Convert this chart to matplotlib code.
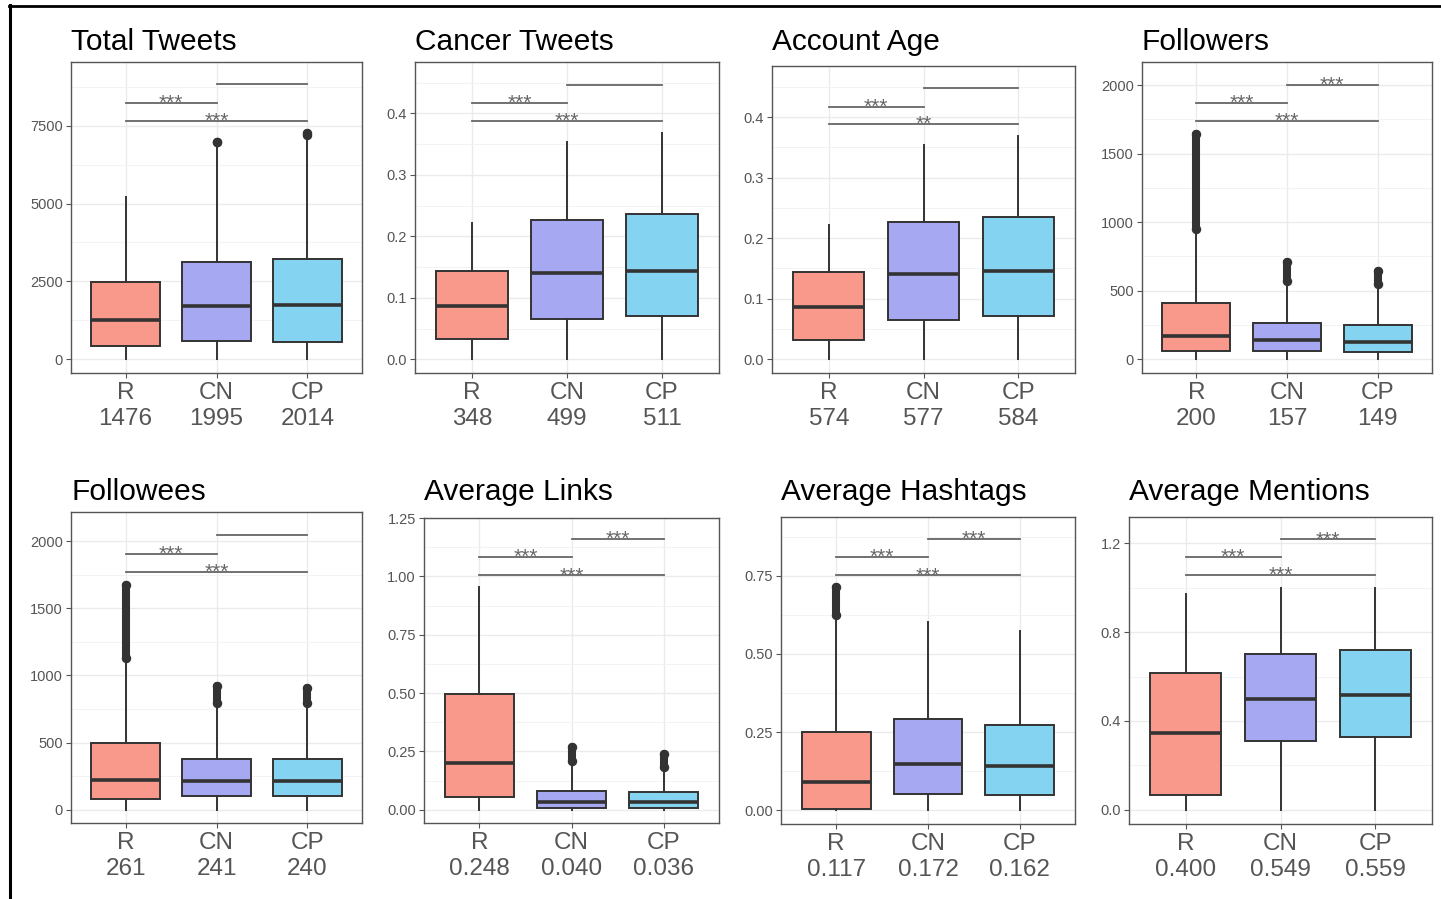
import matplotlib
matplotlib.use('Agg')
import matplotlib.pyplot as plt
from matplotlib.lines import Line2D
from matplotlib.ticker import MultipleLocator

plt.rcParams['font.family'] = ['Liberation Sans', 'DejaVu Sans']

groups = ['R', 'CN', 'CP']
colors = ['#F8998B', '#A6A8F2', '#84D3F1']

titles = ['Total Tweets', 'Cancer Tweets', 'Account Age', 'Followers',
          'Followees', 'Average Links', 'Average Hashtags', 'Average Mentions']

# values shown under the group names
counts = [['1476', '1995', '2014'], ['348', '499', '511'], ['574', '577', '584'],
          ['200', '157', '149'], ['261', '241', '240'], ['0.248', '0.040', '0.036'],
          ['0.117', '0.172', '0.162'], ['0.400', '0.549', '0.559']]

# box statistics (R, CN, CP) per panel
q1 = [[428, 589, 557], [0.0325, 0.065, 0.0704], [0.032, 0.065, 0.0705], [60, 55, 51],
      [82, 104, 104], [0.054, 0.007, 0.007], [0.003, 0.051, 0.048], [0.067, 0.31, 0.326]]
med = [[1255, 1715, 1737], [0.0867, 0.141, 0.144], [0.086, 0.141, 0.145], [165, 136, 128],
       [223, 216, 216], [0.202, 0.035, 0.033], [0.0886, 0.147, 0.141], [0.344, 0.501, 0.516]]
q3 = [[2467, 3131, 3217], [0.144, 0.2265, 0.236], [0.1448, 0.2275, 0.2358], [408, 262, 250],
      [496, 379, 379], [0.494, 0.082, 0.076], [0.2506, 0.291, 0.272], [0.614, 0.699, 0.721]]
whis_lo = [[0, 0, 0]] * 8
whis_hi = [[5222, 6900, 7150], [0.221, 0.354, 0.368], [0.221, 0.354, 0.369], [930, 560, 535],
           [1120, 785, 785], [0.954, 0.2, 0.175], [0.62, 0.603, 0.573], [0.970, 1.0, 1.0]]
# outlier extent (lowest, highest), None = no outliers
outliers = [[None, (6992, 6992), (7200, 7260)],
            [None, None, None],
            [None, None, None],
            [(950, 1642), (571, 707), (547, 646)],
            [(1132, 1675), (793, 920), (793, 905)],
            [None, (0.209, 0.27), (0.181, 0.239)],
            [(0.626, 0.715), None, None],
            [None, None, None]]

# significance brackets: height and label
br_rcn = [8250, 0.417, 0.4176, 1870, 1908, 1.082, 0.811, 1.137]
br_rcp = [7670, 0.388, 0.3884, 1739, 1774, 1.004, 0.752, 1.055]
br_cncp = [8838, 0.446, 0.448, 2000, 2045, 1.159, 0.868, 1.216]
lab_rcn = ['***'] * 8
lab_rcp = ['***', '***', '**', '***', '***', '***', '***', '***']
lab_cncp = ['', '', '', '***', '', '***', '***', '***']

yticks = [[0, 2500, 5000, 7500], [0, 0.1, 0.2, 0.3, 0.4], [0, 0.1, 0.2, 0.3, 0.4],
          [0, 500, 1000, 1500, 2000], [0, 500, 1000, 1500, 2000],
          [0, 0.25, 0.5, 0.75, 1.0, 1.25], [0, 0.25, 0.5, 0.75], [0, 0.4, 0.8, 1.2]]
ylabels = [['0', '2500', '5000', '7500'], ['0.0', '0.1', '0.2', '0.3', '0.4'],
           ['0.0', '0.1', '0.2', '0.3', '0.4'], ['0', '500', '1000', '1500', '2000'],
           ['0', '500', '1000', '1500', '2000'], ['0.00', '0.25', '0.50', '0.75', '1.00', '1.25'],
           ['0.00', '0.25', '0.50', '0.75'], ['0.0', '0.4', '0.8', '1.2']]
ylims = [(-450, 9556), (-0.0223, 0.4834), (-0.0231, 0.4848), (-102, 2169),
         (-99, 2218), (-0.057, 1.25), (-0.0448, 0.939), (-0.063, 1.317)]

W, H = 1441, 899
fig = plt.figure(figsize=(W / 100, H / 100), dpi=100)
fig.patch.set_facecolor('white')

# axes rectangles in pixels: left, top, right, bottom
rects = [(71, 62, 362, 373), (415, 62, 719, 373), (772, 66, 1075, 373), (1142, 62, 1432, 373),
         (71, 512, 362, 823), (424, 518, 719, 823), (781, 517, 1075, 824), (1129, 517, 1432, 824)]
title_base = [50, 50, 50, 50, 500, 500, 500, 500]

dark = '#333333'
grey = '#555555'

for i in range(8):
    l, t, r, b = rects[i]
    ax = fig.add_axes([l / W, 1 - b / H, (r - l) / W, (b - t) / H])

    stats = []
    for j in range(3):
        stats.append(dict(q1=q1[i][j], med=med[i][j], q3=q3[i][j],
                          whislo=whis_lo[i][j], whishi=whis_hi[i][j], fliers=[]))
    bp = ax.bxp(stats, positions=[1, 2, 3], widths=0.75, patch_artist=True,
                showfliers=False, showcaps=False, manage_ticks=False,
                boxprops=dict(edgecolor=dark, linewidth=1.4),
                whiskerprops=dict(color=dark, linewidth=1.4),
                medianprops=dict(color=dark, linewidth=2.6, solid_capstyle='butt'))
    for patch, c in zip(bp['boxes'], colors):
        patch.set_facecolor(c)

    for j in range(3):
        o = outliers[i][j]
        if o is None:
            continue
        ax.plot([j + 1, j + 1], [o[0], o[1]], color=dark, lw=5.8,
                solid_capstyle='round', zorder=4)
        ax.plot([j + 1, j + 1], [o[0], o[1]], 'o', color=dark, ms=5.8, zorder=4)

    for (x0, x1), yb, lab in [((1, 2), br_rcn[i], lab_rcn[i]),
                              ((1, 3), br_rcp[i], lab_rcp[i]),
                              ((2, 3), br_cncp[i], lab_cncp[i])]:
        ax.plot([x0, x1], [yb, yb], color='#666666', lw=1.3, zorder=3)
        if lab:
            ax.annotate(lab, xy=((x0 + x1) / 2, yb), xytext=(0, -6),
                        textcoords='offset pixels', ha='center', va='baseline',
                        fontsize=15, color='#666666')

    ax.set_xlim(0.4, 3.6)
    ax.set_ylim(*ylims[i])
    step = yticks[i][1] - yticks[i][0]
    ax.set_yticks(yticks[i])
    ax.set_yticklabels(ylabels[i])
    ax.yaxis.set_minor_locator(MultipleLocator(step / 2))
    ax.set_xticks([1, 2, 3])
    ax.set_xticklabels([g + '\n' + c for g, c in zip(groups, counts[i])])

    ax.set_axisbelow(True)
    ax.grid(which='major', color='#EBEBEB', lw=1.0)
    ax.grid(which='minor', axis='y', color='#F3F3F3', lw=0.7)
    ax.tick_params(which='minor', length=0)
    ax.tick_params(axis='y', labelsize=10.5, colors=grey, length=3.6, width=0.8, pad=2.2)
    ax.tick_params(axis='x', labelsize=17.5, colors=grey, length=3.6, width=0.8, pad=3)
    for s in ax.spines.values():
        s.set_color('#555555')
        s.set_linewidth(1.0)

    fig.text(l / W, 1 - title_base[i] / H, titles[i], fontsize=21.5,
             ha='left', va='baseline', color='black')

# outer frame (left and top edges)
fig.add_artist(Line2D([10 / W, 10 / W], [0, 1 - 5 / H], color='black', lw=2.2))
fig.add_artist(Line2D([9 / W, 1], [1 - 6 / H, 1 - 6 / H], color='black', lw=2.0))

fig.savefig('out.png', dpi=100)
